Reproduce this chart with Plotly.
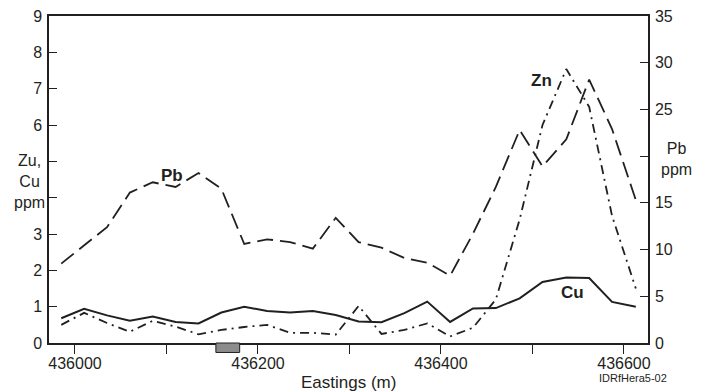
import plotly.graph_objects as go

# Sample positions (Eastings, m)
eastings = [435985, 436010, 436035, 436060, 436085, 436110, 436135, 436160, 436185,
            436210, 436235, 436260, 436285, 436310, 436335, 436360, 436385, 436410,
            436435, 436460, 436486, 436511, 436537, 436562, 436587, 436613]

# Cu (ppm, left axis)
cu = [0.68, 0.94, 0.76, 0.61, 0.73, 0.58, 0.54, 0.84, 1.00,
      0.88, 0.84, 0.88, 0.77, 0.59, 0.57, 0.82, 1.14, 0.58,
      0.95, 0.96, 1.23, 1.68, 1.80, 1.79, 1.13, 1.00]

# Zn (ppm, left axis)
zn = [0.50, 0.83, 0.55, 0.31, 0.61, 0.45, 0.24, 0.36, 0.44,
      0.50, 0.28, 0.28, 0.23, 1.02, 0.25, 0.36, 0.54, 0.18,
      0.42, 1.20, 3.40, 6.00, 7.54, 6.50, 3.50, 1.50]

# Pb (ppm, right axis)
pb = [8.5, 10.5, 12.4, 16.1, 17.2, 16.7, 18.2, 16.5, 10.6,
      11.1, 10.8, 10.1, 13.4, 10.8, 10.2, 9.1, 8.6, 7.2,
      11.7, 16.7, 22.8, 18.9, 21.8, 28.2, 22.9, 15.3]

x_tickvals = [436000, 436100, 436200, 436300, 436400, 436500, 436600]
x_ticktext = ["436000", "", "436200", "", "436400", "", "436600"]
left_ticks = [0, 1, 2, 3, 4, 5, 6, 7, 8, 9]
left_ticktext = ["0", "1", "2", "3", "", "", "6", "7", "8", "9"]
right_ticks = [0, 5, 10, 15, 20, 25, 30, 35]
right_ticktext = ["0", "5", "10", "15", "", "25", "30", "35"]

FONT = "Liberation Sans, Arial, sans-serif"
INK = "#231f20"

fig = go.Figure()
fig.add_trace(go.Scatter(x=eastings, y=cu, mode="lines", name="Cu",
                         line=dict(color=INK, width=2)))
fig.add_trace(go.Scatter(x=eastings, y=zn, mode="lines", name="Zn",
                         line=dict(color=INK, width=1.8, dash="9px,5px,2px,5px")))
fig.add_trace(go.Scatter(x=eastings, y=pb, mode="lines", name="Pb", yaxis="y2",
                         line=dict(color=INK, width=1.8, dash="16px,7px")))

axis_common = dict(showgrid=False, zeroline=False, showline=True, linecolor=INK,
                   linewidth=1.5, tickcolor=INK, tickwidth=1.3, automargin=False,
                   ticklabeloverflow="allow",
                   tickfont=dict(family=FONT, size=16, color=INK))

# page body has an 8px margin, so the figure is sized/margined to compensate
fig.update_layout(
    width=695, height=384,
    margin=dict(l=41, r=55, t=8, b=49, autoexpand=False),
    paper_bgcolor="white", plot_bgcolor="white",
    showlegend=False,
    font=dict(family=FONT, color=INK),
    xaxis=dict(range=[435971.6, 436626.3], tickvals=x_tickvals, ticktext=x_ticktext,
               ticks="outside", ticklen=9, ticklabelstandoff=-4, mirror=True,
               **axis_common),
    yaxis=dict(range=[0, 9], tickvals=left_ticks, ticktext=left_ticktext,
               ticks="inside", ticklen=8, ticklabelstandoff=2, **axis_common),
    yaxis2=dict(range=[0, 35], tickvals=right_ticks, ticktext=right_ticktext,
                ticks="inside", ticklen=8, ticklabelstandoff=2,
                overlaying="y", side="right", **axis_common),
)

# hatched marker box below axis
fig.add_shape(type="rect", xref="x", yref="paper", x0=436154, x1=436180,
              y0=-0.029, y1=0, fillcolor="#8c8c8c", line=dict(color=INK, width=1))

ann = [
    dict(text="Zu,<br>Cu<br>ppm", xref="paper", yref="paper", x=-0.033, y=0.495,
         xanchor="center", showarrow=False, font=dict(size=16), align="center"),
    dict(text="Pb<br>ppm", xref="paper", yref="paper", x=1.048, y=0.563,
         xanchor="center", showarrow=False, font=dict(size=16), align="center"),
    dict(text="Eastings (m)", xref="paper", yref="paper", x=0.5, y=0, yanchor="middle",
         xanchor="center", yshift=-39, showarrow=False, font=dict(size=17)),
    dict(text="IDRfHera5-02", xref="paper", yref="paper", x=0.915, xanchor="left",
         y=0, yanchor="middle", yshift=-35, showarrow=False, font=dict(size=11)),
    dict(text="<b>Pb</b>", xref="x", yref="y", x=436105.7, y=4.62, showarrow=False,
         font=dict(size=17)),
    dict(text="<b>Zn</b>", xref="x", yref="y", x=436510, y=7.23, showarrow=False,
         font=dict(size=17)),
    dict(text="<b>Cu</b>", xref="x", yref="y", x=436544, y=1.39, showarrow=False,
         font=dict(size=17)),
]
fig.update_layout(annotations=ann)

fig.write_html("out.html")
